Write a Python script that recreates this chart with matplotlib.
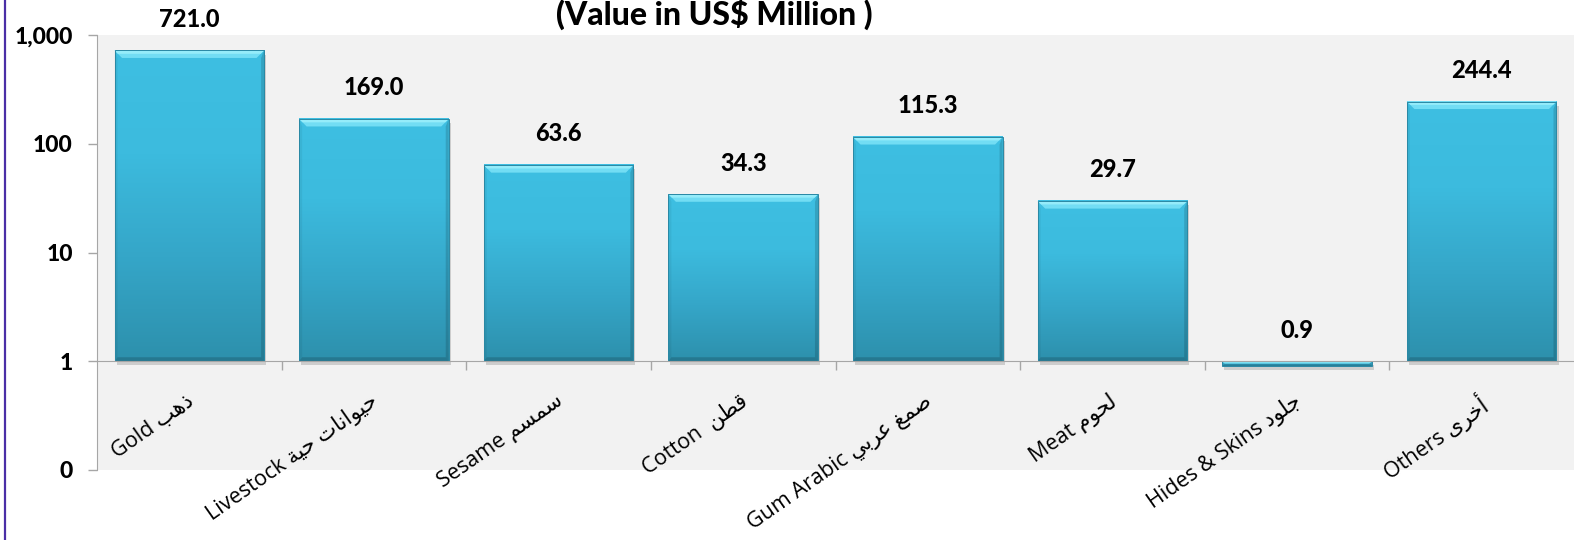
import numpy as np
import matplotlib
matplotlib.use("Agg")
import matplotlib.pyplot as plt
from matplotlib.patches import Polygon
from matplotlib import patheffects as pe
from matplotlib.colors import LinearSegmentedColormap
from matplotlib.transforms import IdentityTransform, ScaledTranslation
from matplotlib.ticker import NullLocator

# ---------------- data ----------------
english = ["Gold", "Livestock", "Sesame", "Cotton ", "Gum Arabic", "Meat", "Hides & Skins", "Others"]
arabic = ["ذهب", "حيوانات حية", "سمسم", "قطن", "صمغ عربي", "لحوم", "جلود", "أخرى"]
values = [721.0, 169.0, 63.6, 34.3, 115.3, 29.7, 0.9, 244.4]
ytick_values = [0.1, 1, 10, 100, 1000]
ytick_labels = ["0", "1", "10", "100", "1,000"]
title = "(Value in US$ Million )"

# ---------------- minimal Arabic shaping (presentation forms, visual order) ----------------
FORMS = {
    'ا': (0xFE8D, 0xFE8E, None, None), 'أ': (0xFE83, 0xFE84, None, None),
    'ب': (0xFE8F, 0xFE90, 0xFE91, 0xFE92), 'ة': (0xFE93, 0xFE94, None, None),
    'ت': (0xFE95, 0xFE96, 0xFE97, 0xFE98), 'ج': (0xFE9D, 0xFE9E, 0xFE9F, 0xFEA0),
    'ح': (0xFEA1, 0xFEA2, 0xFEA3, 0xFEA4), 'خ': (0xFEA5, 0xFEA6, 0xFEA7, 0xFEA8),
    'د': (0xFEA9, 0xFEAA, None, None), 'ذ': (0xFEAB, 0xFEAC, None, None),
    'ر': (0xFEAD, 0xFEAE, None, None), 'س': (0xFEB1, 0xFEB2, 0xFEB3, 0xFEB4),
    'ص': (0xFEB9, 0xFEBA, 0xFEBB, 0xFEBC), 'ط': (0xFEC1, 0xFEC2, 0xFEC3, 0xFEC4),
    'ع': (0xFEC9, 0xFECA, 0xFECB, 0xFECC), 'غ': (0xFECD, 0xFECE, 0xFECF, 0xFED0),
    'ق': (0xFED5, 0xFED6, 0xFED7, 0xFED8), 'ل': (0xFEDD, 0xFEDE, 0xFEDF, 0xFEE0),
    'م': (0xFEE1, 0xFEE2, 0xFEE3, 0xFEE4), 'ن': (0xFEE5, 0xFEE6, 0xFEE7, 0xFEE8),
    'ه': (0xFEE9, 0xFEEA, 0xFEEB, 0xFEEC), 'و': (0xFEED, 0xFEEE, None, None),
    'ى': (0xFEEF, 0xFEF0, None, None), 'ي': (0xFEF1, 0xFEF2, 0xFEF3, 0xFEF4),
}


def shape(text):
    chars = list(text)
    out = []
    for i, c in enumerate(chars):
        if c not in FORMS:
            out.append(c)
            continue
        iso, fin, ini, med = FORMS[c]
        prev = chars[i - 1] if i > 0 else None
        nxt = chars[i + 1] if i + 1 < len(chars) else None
        pj = prev in FORMS and FORMS[prev][2] is not None
        nj = (nxt in FORMS) and ini is not None
        if pj and nj:
            f = med
        elif pj:
            f = fin
        elif nj:
            f = ini
        else:
            f = iso
        out.append(chr(f))
    return "".join(reversed(out))


labels = [f"{e} {shape(a)}" for e, a in zip(english, arabic)]

# ---------------- figure ----------------
W, H, DPI = 1574, 540, 100
fig = plt.figure(figsize=(W / DPI, H / DPI), dpi=DPI)
fig.patch.set_facecolor("white")
ax = fig.add_axes([97 / W, 70 / H, 1477 / W, 435 / H])
ax.set_facecolor("#F2F2F2")
ax.set_yscale("log")
ax.set_autoscale_on(False)
ax.set_ylim(0.1, 1000)
ax.set_xlim(-0.5, len(values) - 0.5)

x = np.arange(len(values))
vals = np.array(values)
bars = ax.bar(x, vals - 1, bottom=1, width=0.81, color="#3BB7DA", zorder=2,
              linewidth=0)
for p in bars:
    p.set_path_effects([pe.SimplePatchShadow(offset=(1.5, -3), shadow_rgbFace="#7a7a7a", alpha=0.3),
                        pe.Normal()])

# gradient fill + bevel in display space
cmap = LinearSegmentedColormap.from_list("barg", ["#2D90AC", "#35A6C8", "#3CBBDE", "#3EBFE2"])
grad = np.linspace(1, 0, 256).reshape(-1, 1)
ident = IdentityTransform()
for p in bars:
    x0, x1 = p.get_x(), p.get_x() + p.get_width()
    y0, y1 = sorted([p.get_y(), p.get_y() + p.get_height()])
    (X0, Yb), (X1, Yt) = ax.transData.transform([(x0, y0), (x1, y1)])
    ax.imshow(grad, extent=(X0, X1, Yb, Yt), transform=ident, cmap=cmap, vmin=0, vmax=1,
              aspect="auto", origin="upper", zorder=2.1, interpolation="bilinear")
    hb = Yt - Yb
    bt = min(7.5, hb / 2.0)   # top bevel
    bs = min(3.0, hb / 2.0)   # side bevel
    bb = min(4.0, hb / 2.0)   # bottom bevel
    top = Polygon([(X0, Yt), (X1, Yt), (X1 - bt, Yt - bt), (X0 + bt, Yt - bt)], closed=True,
                  transform=ident, facecolor="#72DDF4", edgecolor="none", zorder=2.2)
    topline = Polygon([(X0, Yt), (X1, Yt), (X1 - bt * 0.45, Yt - bt * 0.45), (X0 + bt * 0.45, Yt - bt * 0.45)],
                      closed=True, transform=ident, facecolor="#95ECFA", edgecolor="none", zorder=2.25)
    left = Polygon([(X0, Yt), (X0 + bs, Yt - bt), (X0 + bs, Yb + bb), (X0, Yb)], closed=True,
                   transform=ident, facecolor="black", alpha=0.05, edgecolor="none", zorder=2.2)
    right = Polygon([(X1, Yt), (X1 - bs, Yt - bt), (X1 - bs, Yb + bb), (X1, Yb)], closed=True,
                    transform=ident, facecolor="black", alpha=0.14, edgecolor="none", zorder=2.2)
    bot = Polygon([(X0, Yb), (X1, Yb), (X1 - bs, Yb + bb), (X0 + bs, Yb + bb)], closed=True,
                  transform=ident, facecolor="black", alpha=0.16, edgecolor="none", zorder=2.2)
    outline = Polygon([(X0, Yb), (X0, Yt), (X1, Yt), (X1, Yb)], closed=True, transform=ident,
                      facecolor="none", edgecolor="#2A88A4", linewidth=0.7, zorder=2.3)
    for a in (top, topline, left, right, bot, outline):
        ax.add_patch(a)

# value labels
for xi, v in zip(x, values):
    ax.annotate(f"{v:.1f}", xy=(xi, max(v, 1.0)), xytext=(0, 22.5), textcoords="offset points",
                ha="center", va="center", fontsize=17, fontweight=900,
                family=["Lato", "DejaVu Sans"], color="black", zorder=5)

# spines
for s in ("top", "right"):
    ax.spines[s].set_visible(False)
ax.spines["left"].set_color("#A6A6A6")
ax.spines["bottom"].set_color("#A6A6A6")
ax.spines["bottom"].set_position(("data", 1))
ax.spines["bottom"].set_zorder(2.5)

# y axis
ax.set_yticks(ytick_values)
ax.set_yticklabels(ytick_labels)
ax.yaxis.set_minor_locator(NullLocator())
ax.tick_params(axis="y", which="major", direction="out", length=6.5, width=1,
               color="#A6A6A6", pad=11, labelsize=16.5)
for t in ax.get_yticklabels():
    t.set_fontweight(900)
    t.set_family(["Lato", "DejaVu Sans"])

# x axis: tick marks at category boundaries, labels at centers
ax.set_xticks(np.arange(len(values) - 1) + 0.5)
ax.set_xticklabels([])
ax.tick_params(axis="x", which="major", direction="out", length=6.5, width=1, color="#A6A6A6")
ax.set_xticks(x, labels, minor=True)
ax.tick_params(axis="x", which="minor", length=0, pad=21)
shift = ScaledTranslation(-4 / DPI, 0, fig.dpi_scale_trans)
for t in ax.get_xticklabels(minor=True):
    t.set_rotation(35)
    t.set_ha("right")
    t.set_va("top")
    t.set_rotation_mode("anchor")
    t.set_fontsize(15.5)
    t.set_family(["Open Sans", "DejaVu Sans"])
    t.set_transform(t.get_transform() + shift)

# title (near the top edge, as in the reference)
fig.text(714 / W, 1 - 25 / H, title, ha="center", va="baseline", fontsize=23,
         fontweight=900, family=["Lato", "DejaVu Sans"])

# purple left border
fig.add_artist(plt.Line2D([4.5 / W, 4.5 / W], [0, 1], transform=fig.transFigure,
                          color="#4A2FA6", linewidth=1.6))

fig.savefig("out.png", dpi=DPI)
